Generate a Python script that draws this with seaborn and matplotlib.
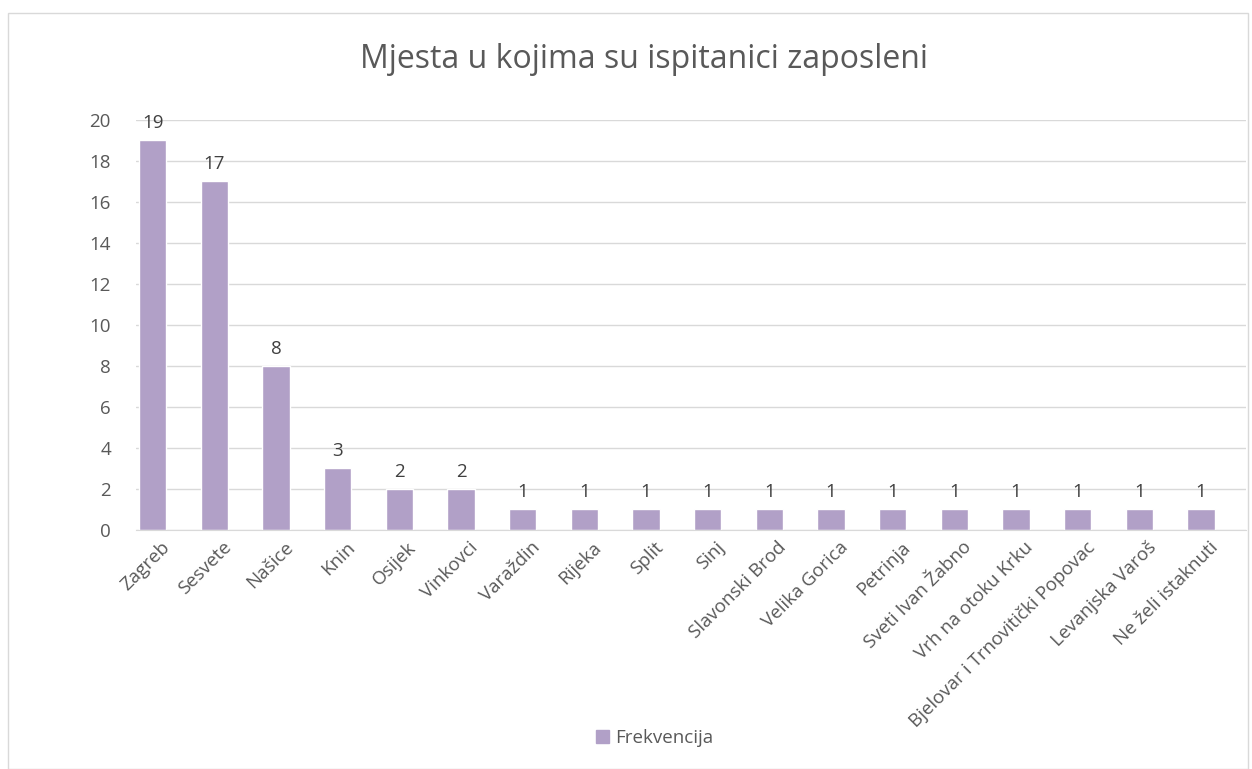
import matplotlib
matplotlib.use("Agg")
import matplotlib.pyplot as plt
import matplotlib.transforms as mtransforms
import seaborn as sns
import pandas as pd
from matplotlib.patches import Rectangle, Patch

mjesta = ["Zagreb", "Sesvete", "Našice", "Knin", "Osijek", "Vinkovci", "Varaždin",
          "Rijeka", "Split", "Sinj", "Slavonski Brod", "Velika Gorica", "Petrinja",
          "Sveti Ivan Žabno", "Vrh na otoku Krku", "Bjelovar i Trnovitički Popovac",
          "Levanjska Varoš", "Ne želi istaknuti"]
frekvencija = [19, 17, 8, 3, 2, 2, 1, 1, 1, 1, 1, 1, 1, 1, 1, 1, 1, 1]
y_ticks = [0, 2, 4, 6, 8, 10, 12, 14, 16, 18, 20]

df = pd.DataFrame({"mjesto": mjesta, "frekvencija": frekvencija})

sns.set_style("white")
plt.rcParams["font.family"] = ["Open Sans", "DejaVu Sans"]
txt = "#595959"
boja = "#B1A0C7"

fig = plt.figure(figsize=(12.52, 7.69), dpi=100)
ax = fig.add_axes([0.1086, 0.311, 0.8866, 0.533])

sns.barplot(data=df, x="mjesto", y="frekvencija", color=boja, width=0.44,
            saturation=1, ax=ax)

ax.set_xlim(-0.27, 17.73)
ax.set_ylim(0, 20)
ax.set_yticks(y_ticks)
ax.yaxis.grid(True, color="#D9D9D9", linewidth=1)
ax.set_axisbelow(True)
for s in ["top", "right", "left"]:
    ax.spines[s].set_visible(False)
ax.spines["bottom"].set_color("#D9D9D9")
ax.tick_params(axis="both", length=0, colors=txt, labelsize=13.5)
ax.tick_params(axis="y", pad=18)
ax.tick_params(axis="x", pad=6)
ax.set_xlabel("")
ax.set_ylabel("")
# labels in the reference end a little to the right of the bar centre
pomak = mtransforms.ScaledTranslation(8 / 100, 0, fig.dpi_scale_trans)
for lab in ax.get_xticklabels():
    lab.set_rotation(45)
    lab.set_ha("right")
    lab.set_rotation_mode("anchor")
    lab.set_transform(lab.get_transform() + pomak)

for cont in ax.containers:
    ax.bar_label(cont, labels=[str(v) for v in frekvencija], padding=6,
                 fontsize=13.5, color="#404040")

fig.text(0.514, 0.922, "Mjesta u kojima su ispitanici zaposleni", ha="center",
         va="center", fontsize=23, color=txt)

fig.legend(handles=[Patch(color=boja, label="Frekvencija")], loc="center",
           bbox_to_anchor=(0.523, 0.04), frameon=False, fontsize=13.5,
           handlelength=0.7, handleheight=0.7, handletextpad=0.3,
           labelcolor=txt)

fig.patches.append(Rectangle((0.0065, 0.0), 0.99, 0.983, transform=fig.transFigure,
                             fill=False, edgecolor="#D9D9D9", linewidth=1))

fig.savefig("out.png", dpi=100)
